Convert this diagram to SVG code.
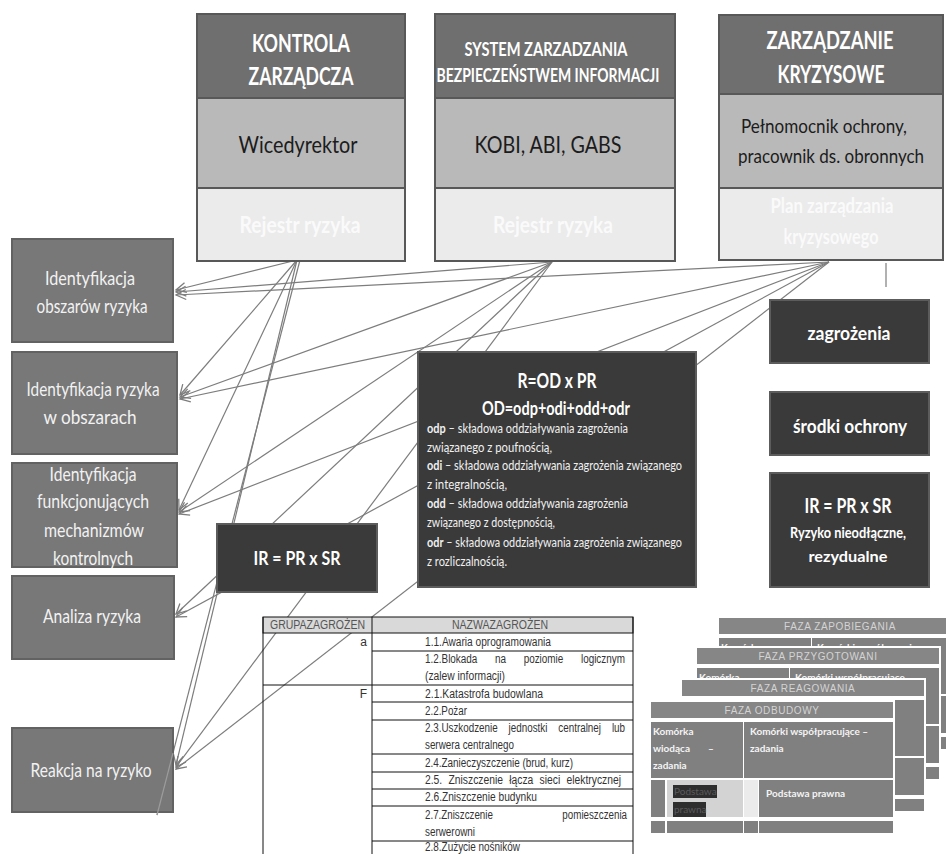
<svg xmlns="http://www.w3.org/2000/svg" width="946" height="854" viewBox="0 0 946 854">
<style>
.hdr{fill:#6f6f6f;stroke:#585858;stroke-width:2}
.mid{fill:#b9b9b9;stroke:#585858;stroke-width:2}
.low{fill:#ebebeb;stroke:#585858;stroke-width:2}
.lbox{fill:#787878;stroke:#626262;stroke-width:2}
.dbox{fill:#3a3a3a;stroke:#5c5c5c;stroke-width:2}
.t{font-family:Lato,'Noto Sans',sans-serif;text-anchor:middle}
.wb{fill:#ffffff;font-weight:bold}
.dk{fill:#1c1c1c}
.pale{fill:#fafafa;font-weight:bold}
.lt{fill:#f2f2f2}
.body{font-family:Lato,'Noto Sans',sans-serif;font-size:12.5px;fill:#f0f0f0}
.conn line{stroke:#7d7d7d;stroke-width:1.2;fill:none}
.arr{marker-end:url(#ah)}
.tbl line{stroke:#111;stroke-width:1}
.tbl text{font-family:'Liberation Sans',Arial,sans-serif;font-size:12px;fill:#333}
.cell{fill:#808080}
.cl{fill:#d3d3d3}
.cll{fill:#ebebeb}
.ch{fill:#868686}
.cht{font-family:'Liberation Sans',Arial,sans-serif;font-size:10px;fill:#d4d4d4;text-anchor:middle;letter-spacing:0.6px}
.ct{font-family:Lato,'Noto Sans',sans-serif;font-size:10px;font-weight:bold;fill:#f4f4f4}
</style>
<defs>
<marker id="ah" viewBox="-12 -7 14 14" refX="0" refY="0" markerWidth="14" markerHeight="14" markerUnits="userSpaceOnUse" orient="auto">
<path d="M-10,-5 L0,0 L-10,5" fill="none" stroke="#7d7d7d" stroke-width="1.3"/>
</marker>
</defs>
<rect x="0" y="0" width="946" height="854" fill="#ffffff"/>

<g id="connectors" class="conn">
<line class="arr" x1="297" y1="260" x2="176" y2="290"/>
<line class="arr" x1="552" y1="262" x2="176" y2="292"/>
<line class="arr" x1="829" y1="262" x2="176" y2="295"/>
<line class="arr" x1="297" y1="260" x2="180" y2="395"/>
<line class="arr" x1="552" y1="262" x2="180" y2="397"/>
<line class="arr" x1="829" y1="262" x2="180" y2="399"/>
<line class="arr" x1="297" y1="260" x2="179" y2="510"/>
<line class="arr" x1="552" y1="262" x2="179" y2="512"/>
<line class="arr" x1="829" y1="262" x2="179" y2="514"/>
<line class="arr" x1="552" y1="262" x2="176" y2="614"/>
<line class="arr" x1="829" y1="262" x2="176" y2="617"/>
<line class="arr" x1="297" y1="260" x2="176" y2="765"/>
<line class="arr" x1="552" y1="262" x2="176" y2="767"/>
<line class="arr" x1="829" y1="262" x2="176" y2="769"/>
<line x1="300" y1="260" x2="157" y2="815"/>
<line x1="886" y1="263" x2="886" y2="287"/>
</g>

<g id="box-kontrola">
<rect class="hdr" x="197" y="14" width="208" height="84"/>
<rect class="mid" x="197" y="98" width="208" height="90"/>
<rect class="low" x="197" y="188" width="208" height="73"/>
<text class="t wb" x="301" y="52" font-size="25" textLength="98" lengthAdjust="spacingAndGlyphs">KONTROLA</text>
<text class="t wb" x="301" y="85" font-size="25" textLength="105" lengthAdjust="spacingAndGlyphs">ZARZĄDCZA</text>
<text class="t dk" x="298" y="153" font-size="23" textLength="119" lengthAdjust="spacingAndGlyphs">Wicedyrektor</text>
<text class="t pale" x="300" y="233" font-size="22" textLength="121" lengthAdjust="spacingAndGlyphs">Rejestr ryzyka</text>
</g>

<g id="box-system">
<rect class="hdr" x="435" y="14" width="240" height="84"/>
<rect class="mid" x="435" y="98" width="240" height="90"/>
<rect class="low" x="435" y="188" width="240" height="73"/>
<text class="t wb" x="546" y="56" font-size="18" textLength="163" lengthAdjust="spacingAndGlyphs">SYSTEM ZARZADZANIA</text>
<text class="t wb" x="548" y="82" font-size="18" textLength="223" lengthAdjust="spacingAndGlyphs">BEZPIECZEŃSTWEM INFORMACJI</text>
<text class="t dk" x="548" y="153" font-size="23" textLength="147" lengthAdjust="spacingAndGlyphs">KOBI, ABI, GABS</text>
<text class="t pale" x="553" y="233" font-size="22" textLength="120" lengthAdjust="spacingAndGlyphs">Rejestr ryzyka</text>
</g>

<g id="box-kryzysowe">
<rect class="hdr" x="719" y="15" width="224" height="79"/>
<rect class="mid" x="719" y="94" width="224" height="94"/>
<rect class="low" x="719" y="188" width="224" height="72"/>
<text class="t wb" x="830" y="49" font-size="24" textLength="127" lengthAdjust="spacingAndGlyphs">ZARZĄDZANIE</text>
<text class="t wb" x="831" y="83" font-size="24" textLength="107" lengthAdjust="spacingAndGlyphs">KRYZYSOWE</text>
<text class="t dk" x="824" y="133" font-size="20" textLength="166" lengthAdjust="spacingAndGlyphs">Pełnomocnik ochrony,</text>
<text class="t dk" x="831" y="163" font-size="20" textLength="186" lengthAdjust="spacingAndGlyphs">pracownik ds. obronnych</text>
<text class="t pale" x="832" y="213" font-size="20" textLength="123" lengthAdjust="spacingAndGlyphs">Plan zarządzania</text>
<text class="t pale" x="831" y="244" font-size="20" textLength="95" lengthAdjust="spacingAndGlyphs">kryzysowego</text>
</g>

<g id="id-obszarow">
<rect class="lbox" x="12" y="239" width="161" height="103"/>
<text class="t lt" x="90" y="285" font-size="19" textLength="90" lengthAdjust="spacingAndGlyphs">Identyfikacja</text>
<text class="t lt" x="92" y="313" font-size="19" textLength="111" lengthAdjust="spacingAndGlyphs">obszarów ryzyka</text>
</g>
<g id="id-ryzyka">
<rect class="lbox" x="12" y="352" width="165" height="102"/>
<text class="t lt" x="93" y="396" font-size="19" textLength="133" lengthAdjust="spacingAndGlyphs">Identyfikacja ryzyka</text>
<text class="t lt" x="90" y="424" font-size="19" textLength="93" lengthAdjust="spacingAndGlyphs">w obszarach</text>
</g>
<g id="id-mechanizmow">
<rect class="lbox" x="12" y="463" width="165" height="104"/>
<text class="t lt" x="93" y="481" font-size="19" textLength="87" lengthAdjust="spacingAndGlyphs">Identyfikacja</text>
<text class="t lt" x="93" y="508" font-size="19" textLength="112" lengthAdjust="spacingAndGlyphs">funkcjonujących</text>
<text class="t lt" x="94" y="537" font-size="19" textLength="100" lengthAdjust="spacingAndGlyphs">mechanizmów</text>
<text class="t lt" x="93" y="565" font-size="19" textLength="80" lengthAdjust="spacingAndGlyphs">kontrolnych</text>
</g>
<g id="analiza">
<rect class="lbox" x="12" y="576" width="162" height="83"/>
<text class="t lt" x="92" y="623" font-size="19" textLength="98" lengthAdjust="spacingAndGlyphs">Analiza ryzyka</text>
</g>
<g id="reakcja">
<rect class="lbox" x="12" y="728" width="161" height="84"/>
<text class="t lt" x="91" y="777" font-size="19" textLength="121" lengthAdjust="spacingAndGlyphs">Reakcja na ryzyko</text>
</g>

<g id="ir-left">
<rect class="dbox" x="217" y="524" width="160" height="68"/>
<text class="t wb" x="297" y="565" font-size="19" textLength="87" lengthAdjust="spacingAndGlyphs">IR = PR x SR</text>
</g>

<g id="formula">
<rect class="dbox" x="418" y="352" width="278" height="235"/>
<text class="t wb" x="557" y="388" font-size="21" textLength="79" lengthAdjust="spacingAndGlyphs">R=OD x PR</text>
<text class="t wb" x="556" y="415" font-size="19" textLength="148" lengthAdjust="spacingAndGlyphs">OD=odp+odi+odd+odr</text>
<text class="body" x="427" y="433" textLength="201" lengthAdjust="spacingAndGlyphs"><tspan font-weight="bold">odp</tspan> – składowa oddziaływania zagrożenia</text>
<text class="body" x="427" y="452" textLength="125" lengthAdjust="spacingAndGlyphs">związanego z poufnością,</text>
<text class="body" x="427" y="470" textLength="255" lengthAdjust="spacingAndGlyphs"><tspan font-weight="bold">odi</tspan> – składowa oddziaływania zagrożenia związanego</text>
<text class="body" x="427" y="489" textLength="80" lengthAdjust="spacingAndGlyphs">z integralnością,</text>
<text class="body" x="427" y="508" textLength="201" lengthAdjust="spacingAndGlyphs"><tspan font-weight="bold">odd</tspan> – składowa oddziaływania zagrożenia</text>
<text class="body" x="427" y="527" textLength="128" lengthAdjust="spacingAndGlyphs">związanego z dostępnością,</text>
<text class="body" x="427" y="547" textLength="255" lengthAdjust="spacingAndGlyphs"><tspan font-weight="bold">odr</tspan> – składowa oddziaływania zagrożenia związanego</text>
<text class="body" x="427" y="566" textLength="80" lengthAdjust="spacingAndGlyphs">z rozliczalnością.</text>
</g>

<g id="zagrozenia">
<rect class="dbox" x="770" y="300" width="159" height="63"/>
<text class="t wb" x="849" y="340" font-size="19" textLength="83" lengthAdjust="spacingAndGlyphs">zagrożenia</text>
</g>
<g id="srodki">
<rect class="dbox" x="770" y="392" width="159" height="63"/>
<text class="t wb" x="850" y="433" font-size="19" textLength="114" lengthAdjust="spacingAndGlyphs">środki ochrony</text>
</g>
<g id="ir-right">
<rect class="dbox" x="770" y="473" width="159" height="114"/>
<text class="t wb" x="848" y="513" font-size="21" textLength="87" lengthAdjust="spacingAndGlyphs">IR = PR x SR</text>
<text class="t wb" x="848" y="538" font-size="15" textLength="116" lengthAdjust="spacingAndGlyphs">Ryzyko nieodłączne,</text>
<text class="t wb" x="848" y="562" font-size="15" textLength="79" lengthAdjust="spacingAndGlyphs">rezydualne</text>
</g>

<g id="connectors-over" class="conn">
<line x1="173" y1="753" x2="157" y2="815" style="stroke:#9c9c9c"/>
</g>

<g id="table" class="tbl">
<rect x="263" y="617" width="370" height="16" fill="#d9d9d9" stroke="#111" stroke-width="1"/>
<line x1="263" y1="617" x2="263" y2="854"/>
<line x1="372" y1="617" x2="372" y2="854"/>
<line x1="633" y1="617" x2="633" y2="854"/>
<line x1="263" y1="685" x2="633" y2="685"/>
<line x1="372" y1="651" x2="633" y2="651"/>
<line x1="372" y1="702" x2="633" y2="702"/>
<line x1="372" y1="720" x2="633" y2="720"/>
<line x1="372" y1="754" x2="633" y2="754"/>
<line x1="372" y1="772" x2="633" y2="772"/>
<line x1="372" y1="789" x2="633" y2="789"/>
<line x1="372" y1="806" x2="633" y2="806"/>
<line x1="372" y1="841" x2="633" y2="841"/>
<text x="270" y="629" textLength="95" lengthAdjust="spacingAndGlyphs" style="fill:#555">GRUPAZAGROŻEN</text>
<text x="452" y="629" textLength="96" lengthAdjust="spacingAndGlyphs" style="fill:#555">NAZWAZAGROŻEN</text>
<text x="367" y="646" text-anchor="end">a</text>
<text x="367" y="698" text-anchor="end">F</text>
<text x="425" y="646" textLength="126" lengthAdjust="spacingAndGlyphs">1.1.Awaria oprogramowania</text>
<text x="425" y="663" word-spacing="18" textLength="200" lengthAdjust="spacingAndGlyphs">1.2.Blokada na poziomie logicznym</text>
<text x="425" y="680" textLength="80" lengthAdjust="spacingAndGlyphs">(zalew informacji)</text>
<text x="425" y="698" textLength="118" lengthAdjust="spacingAndGlyphs">2.1.Katastrofa budowlana</text>
<text x="425" y="715" textLength="42" lengthAdjust="spacingAndGlyphs">2.2.Pożar</text>
<text x="425" y="732" word-spacing="10" textLength="200" lengthAdjust="spacingAndGlyphs">2.3.Uszkodzenie jednostki centralnej lub</text>
<text x="425" y="749" textLength="89" lengthAdjust="spacingAndGlyphs">serwera centralnego</text>
<text x="425" y="767" textLength="148" lengthAdjust="spacingAndGlyphs">2.4.Zanieczyszczenie (brud, kurz)</text>
<text x="425" y="784" word-spacing="4" textLength="196" lengthAdjust="spacingAndGlyphs">2.5. Zniszczenie łącza sieci elektrycznej</text>
<text x="425" y="801" textLength="112" lengthAdjust="spacingAndGlyphs">2.6.Zniszczenie budynku</text>
<text x="425" y="819" word-spacing="82" textLength="202" lengthAdjust="spacingAndGlyphs">2.7.Zniszczenie pomieszczenia</text>
<text x="425" y="836" textLength="50" lengthAdjust="spacingAndGlyphs">serwerowni</text>
<text x="425" y="851" textLength="95" lengthAdjust="spacingAndGlyphs">2.8.Zużycie nośników</text>
</g>

<g id="faza-zapobiegania">
<rect x="717" y="616" width="246" height="136" fill="#fff"/>
<rect class="ch" x="719" y="618" width="242" height="16"/>
<text class="cht" x="840" y="630">FAZA ZAPOBIEGANIA</text>
<rect class="cell" x="719" y="638" width="92" height="56"/>
<rect class="cell" x="812" y="638" width="149" height="56"/>
<text class="ct" x="721" y="651">Komórka</text>
<text class="ct" x="817" y="651">Komórki współpracujące –</text>
<rect class="cell" x="719" y="696" width="242" height="37"/>
<rect class="cell" x="719" y="737" width="242" height="12"/>
</g>
<g id="faza-przygotowania">
<rect x="695" y="646" width="246" height="136" fill="#fff"/>
<rect class="ch" x="697" y="648" width="242" height="16"/>
<text class="cht" x="818" y="660">FAZA PRZYGOTOWANI</text>
<rect class="cell" x="697" y="668" width="92" height="56"/>
<rect class="cell" x="790" y="668" width="149" height="56"/>
<text class="ct" x="699" y="681">Komórka</text>
<text class="ct" x="795" y="681">Komórki współpracujące –</text>
<rect class="cell" x="697" y="726" width="242" height="37"/>
<rect class="cell" x="697" y="767" width="242" height="12"/>
</g>
<g id="faza-reagowania">
<rect x="680" y="678" width="246" height="136" fill="#fff"/>
<rect class="ch" x="682" y="680" width="242" height="16"/>
<text class="cht" x="803" y="692">FAZA REAGOWANIA</text>
<rect class="cell" x="682" y="700" width="242" height="56"/>
<rect class="cell" x="682" y="758" width="242" height="37"/>
<rect class="cell" x="682" y="799" width="242" height="12"/>
</g>
<g id="faza-odbudowy">
<rect x="649" y="700" width="246" height="136" fill="#fff"/>
<rect class="ch" x="651" y="702" width="242" height="16"/>
<text class="cht" x="772" y="714">FAZA ODBUDOWY</text>
<rect class="cell" x="651" y="722" width="92" height="56"/>
<rect class="cell" x="744" y="722" width="149" height="56"/>
<text class="ct" x="653" y="735">Komórka</text>
<text class="ct" x="653" y="752">wiodąca<tspan x="708">–</tspan></text>
<text class="ct" x="653" y="769">zadania</text>
<text class="ct" x="750" y="735">Komórki współpracujące –</text>
<text class="ct" x="750" y="752">zadania</text>
<rect class="cell" x="651" y="780" width="14" height="37"/>
<rect class="cl" x="667" y="780" width="76" height="37"/>
<rect class="cll" x="744" y="780" width="14" height="37"/>
<rect class="cell" x="759" y="780" width="134" height="37"/>
<rect x="673" y="785" width="44" height="13" fill="#2e2e2e"/>
<rect x="673" y="802" width="33" height="15" fill="#2e2e2e"/>
<text class="ct" x="674" y="795" style="fill:#5a5a5a;font-weight:normal">Podstawa</text>
<text class="ct" x="674" y="813" style="fill:#5a5a5a;font-weight:normal">prawna</text>
<text class="ct" x="766" y="797">Podstawa prawna</text>
<rect class="cell" x="651" y="821" width="14" height="12"/>
<rect class="cell" x="667" y="821" width="76" height="12"/>
<rect class="cell" x="744" y="821" width="14" height="12"/>
<rect class="cell" x="759" y="821" width="134" height="12"/>
</g>
</svg>
